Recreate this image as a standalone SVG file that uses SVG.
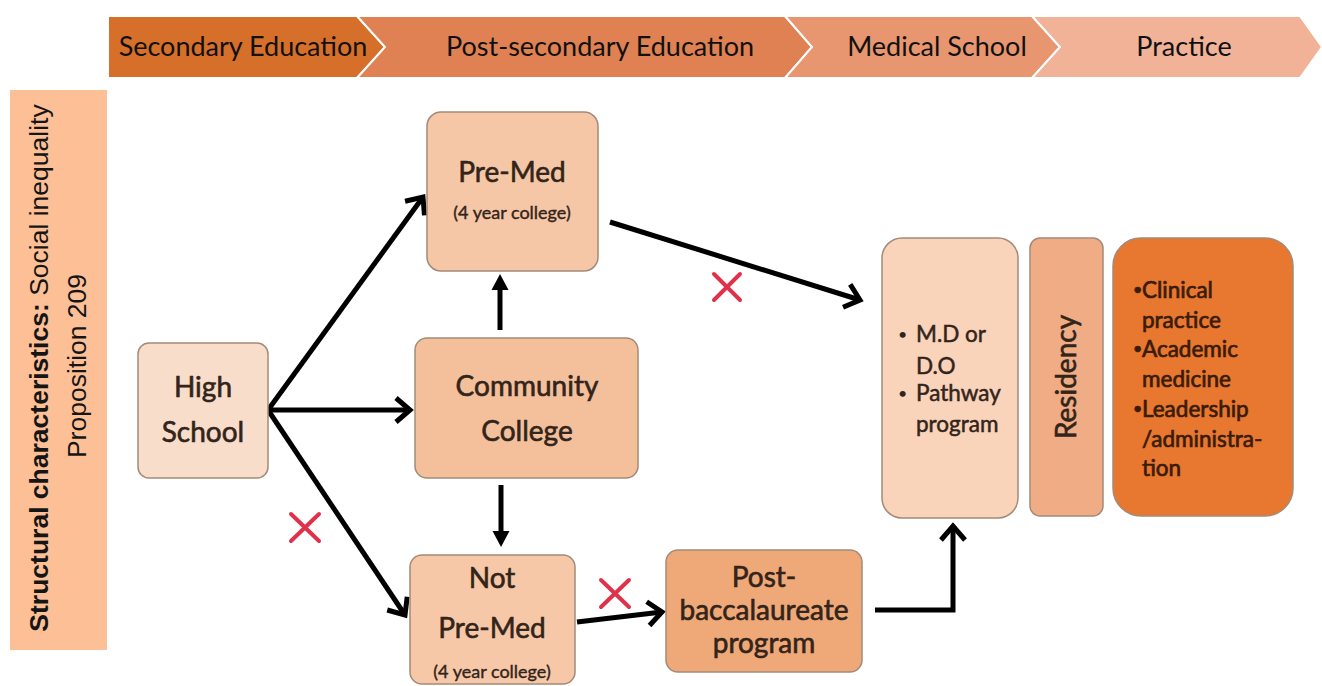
<svg xmlns="http://www.w3.org/2000/svg" width="1322" height="686" viewBox="0 0 1322 686">
  <style>
    .band { stroke: #ffffff; stroke-width: 2; }
    .band-text { font-family: Lato, "Open Sans", sans-serif; font-size: 27px; fill: #111111; text-anchor: middle; }
    .box { stroke: #a48a78; stroke-width: 1.5; }
    .label { font-family: Lato, "Open Sans", sans-serif; font-size: 28px; fill: #33241a; stroke: #33241a; stroke-width: 0.6; text-anchor: middle; }
    .small { font-family: Lato, "Open Sans", sans-serif; font-size: 18px; fill: #33241a; stroke: #33241a; stroke-width: 0.4; text-anchor: middle; }
    .bullet { font-family: Lato, "Open Sans", sans-serif; font-size: 22.5px; fill: #33241a; stroke: #33241a; stroke-width: 0.5; }
    .dot { font-family: Lato, "Open Sans", sans-serif; font-size: 16px; fill: #33241a; }
    .practice-text { fill: #3b1c0a; stroke: #3b1c0a; stroke-width: 0.7; }
    .side { font-family: "Liberation Sans", Arial, sans-serif; font-size: 26.5px; fill: #151515; text-anchor: middle; }
    .link { fill: none; stroke: #000000; stroke-width: 5; }
    .cross { stroke: #e0314b; stroke-width: 4; stroke-linecap: round; }
  </style>
  <defs>
    <marker id="open" markerUnits="userSpaceOnUse" viewBox="-20 -16 26 32" markerWidth="26" markerHeight="32" refX="0" refY="0" orient="auto">
      <path d="M-14,-12 L0,0 L-14,12" fill="none" stroke="#000" stroke-width="5" stroke-linejoin="miter"/>
    </marker>
    <marker id="solid" markerUnits="userSpaceOnUse" viewBox="-2 -10 20 20" markerWidth="20" markerHeight="20" refX="4" refY="0" orient="auto">
      <path d="M0,-8.5 L16,0 L0,8.5 Z" fill="#000"/>
    </marker>
  </defs>

  <rect width="1322" height="686" fill="#ffffff"/>

  <!-- stage banner -->
  <g id="stages">
    <polygon class="band" fill="#d66f2a" points="108,16 357,16 385,47 357,78 108,78"/>
    <polygon class="band" fill="#df8152" points="357,16 785,16 812,47 785,78 357,78 385,47"/>
    <polygon class="band" fill="#e8966f" points="785,16 1032,16 1060,47 1032,78 785,78 812,47"/>
    <polygon class="band" fill="#f1b298" points="1032,16 1300,16 1322,47 1300,78 1032,78 1060,47"/>
    <text class="band-text" x="243" y="56">Secondary Education</text>
    <text class="band-text" x="600" y="56">Post-secondary Education</text>
    <text class="band-text" x="937" y="56">Medical School</text>
    <text class="band-text" x="1184" y="56">Practice</text>
  </g>

  <!-- side panel -->
  <g id="side-panel">
    <rect x="10" y="90" width="97" height="560" fill="#fdbf95"/>
    <text class="side" transform="translate(48,368) rotate(-90)"><tspan font-weight="bold">Structural characteristics:</tspan> Social inequality</text>
    <text class="side" transform="translate(86,366) rotate(-90)">Proposition 209</text>
  </g>

  <!-- connectors -->
  <g id="connectors">
    <line class="link" x1="268" y1="410" x2="423" y2="197" marker-end="url(#open)"/>
    <line class="link" x1="268" y1="410" x2="410" y2="410" marker-end="url(#open)"/>
    <line class="link" x1="268" y1="410" x2="405" y2="615" marker-end="url(#open)"/>
    <line class="link" x1="500" y1="330" x2="500" y2="286" marker-end="url(#solid)"/>
    <line class="link" x1="501" y1="485" x2="501" y2="535" marker-end="url(#solid)"/>
    <line class="link" x1="610" y1="222" x2="860" y2="300" marker-end="url(#open)"/>
    <line class="link" x1="577" y1="622" x2="662" y2="612" marker-end="url(#open)"/>
    <polyline class="link" points="875,610 953,610 953,526" marker-end="url(#open)"/>
  </g>

  <!-- blocked routes -->
  <g id="crosses">
    <path class="cross" d="M714,274 L740,300 M740,274 L714,300"/>
    <path class="cross" d="M291,514 L319,541 M319,514 L291,541"/>
    <path class="cross" d="M601,580 L629,607 M629,580 L601,607"/>
  </g>

  <g id="high-school">
    <rect class="box" x="138" y="343" width="130" height="135" rx="11" fill="#f9ddcb"/>
    <text class="label" x="203" y="397">High</text>
    <text class="label" x="203" y="442">School</text>
  </g>

  <g id="pre-med">
    <rect class="box" x="427" y="112" width="171" height="159" rx="14" fill="#f6c7a6"/>
    <text class="label" x="512" y="182">Pre-Med</text>
    <text class="small" x="512" y="219">(4 year college)</text>
  </g>

  <g id="community-college">
    <rect class="box" x="415" y="338" width="223" height="140" rx="12" fill="#f4c09c"/>
    <text class="label" x="527" y="396">Community</text>
    <text class="label" x="527" y="441">College</text>
  </g>

  <g id="not-pre-med">
    <rect class="box" x="410" y="555" width="165" height="129" rx="12" fill="#f7c8a8"/>
    <text class="label" x="492" y="588">Not</text>
    <text class="label" x="492" y="638">Pre-Med</text>
    <text class="small" x="492" y="678">(4 year college)</text>
  </g>

  <g id="post-bacc">
    <rect class="box" x="666" y="550" width="196" height="122" rx="12" fill="#efa878"/>
    <text class="label" x="764" y="587">Post-</text>
    <text class="label" x="764" y="620">baccalaureate</text>
    <text class="label" x="764" y="653">program</text>
  </g>

  <g id="medical-school">
    <rect class="box" x="882" y="238" width="136" height="280" rx="20" fill="#f9d3ba"/>
    <text class="dot" x="898" y="340">•</text>
    <text class="bullet" x="916" y="342">M.D or</text>
    <text class="bullet" x="916" y="374">D.O</text>
    <text class="dot" x="898" y="399">•</text>
    <text class="bullet" x="916" y="401">Pathway</text>
    <text class="bullet" x="916" y="432">program</text>
  </g>

  <g id="residency">
    <rect class="box" x="1030" y="238" width="73" height="278" rx="10" fill="#f0ad85"/>
    <text class="label" font-size="26" transform="translate(1076,377) rotate(-90)">Residency</text>
  </g>

  <g id="practice">
    <rect class="box" x="1113" y="238" width="180" height="278" rx="28" fill="#e8772f"/>
    <text class="dot practice-text" x="1133" y="295">•</text>
    <text class="bullet practice-text" x="1142" y="298">Clinical</text>
    <text class="bullet practice-text" x="1142" y="328">practice</text>
    <text class="dot practice-text" x="1133" y="354">•</text>
    <text class="bullet practice-text" x="1142" y="357">Academic</text>
    <text class="bullet practice-text" x="1142" y="387">medicine</text>
    <text class="dot practice-text" x="1133" y="414">•</text>
    <text class="bullet practice-text" x="1142" y="417">Leadership</text>
    <text class="bullet practice-text" x="1142" y="447">/administra-</text>
    <text class="bullet practice-text" x="1142" y="476">tion</text>
  </g>
</svg>
